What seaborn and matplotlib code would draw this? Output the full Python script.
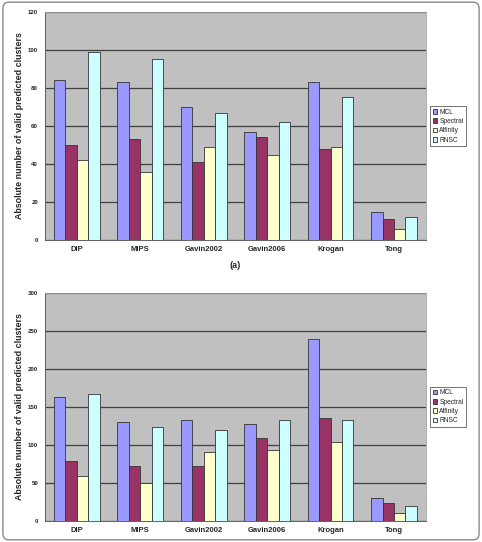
import pandas as pd
import numpy as np
from matplotlib import pyplot as plt
from matplotlib.patches import FancyBboxPatch
import seaborn as sns

datasets = ['DIP', 'MIPS', 'Gavin2002', 'Gavin2006', 'Krogan', 'Tong']
methods = ['MCL', 'Spectral', 'Affinity', 'RNSC']

# panel (a)
mcl_a = [84, 83, 70, 57, 83, 15]
spectral_a = [50, 53, 41, 54, 48, 11]
affinity_a = [42, 36, 49, 45, 49, 6]
rnsc_a = [99, 95, 67, 62, 75, 12]

# panel (b)
mcl_b = [163, 130, 133, 128, 239, 30]
spectral_b = [79, 73, 73, 109, 135, 24]
affinity_b = [59, 50, 91, 94, 104, 11]
rnsc_b = [167, 123, 120, 133, 133, 20]

palette = ['#9999FF', '#993366', '#FFFFCC', '#CCFFFF']
ylabel = 'Absolute number of valid predicted clusters'


def long_frame(series):
    rows = []
    for m, vals in zip(methods, series):
        for d, v in zip(datasets, vals):
            rows.append({'Dataset': d, 'Method': m, 'Value': v})
    return pd.DataFrame(rows)


def draw_panel(ax, df, ymax, step):
    ax.set_facecolor('#C0C0C0')
    sns.barplot(data=df, x='Dataset', y='Value', hue='Method',
                order=datasets, hue_order=methods, palette=palette,
                width=0.72, edgecolor='#333333', linewidth=0.6,
                saturation=1, errorbar=None, ax=ax, zorder=3)
    ax.set_xlim(-0.5, len(datasets) - 0.5)
    ax.set_ylim(0, ymax)
    ax.set_yticks(np.arange(0, ymax + 1, step))
    ax.yaxis.grid(True, color='#404040', linewidth=0.9, zorder=1)
    ax.xaxis.grid(False)
    ax.set_axisbelow(True)
    ax.set_xlabel('')
    ax.set_ylabel(ylabel, fontsize=6.4, fontweight='bold', labelpad=3)
    ax.tick_params(axis='x', which='major', length=0, pad=4,
                   labelsize=5.5)
    for t in ax.get_xticklabels():
        t.set_fontweight('bold')
    ax.set_xticks(np.arange(0.5, len(datasets) - 0.5), minor=True)
    ax.tick_params(axis='x', which='minor', length=3, color='#555555', width=0.6)
    ax.tick_params(axis='y', length=3, color='#555555', width=0.6,
                   labelsize=4.4, pad=2)
    for t in ax.get_yticklabels():
        t.set_fontweight('bold')
    for s in ['top', 'right']:
        ax.spines[s].set_color('#A0A0A0')
        ax.spines[s].set_linewidth(0.6)
    for s in ['left', 'bottom']:
        ax.spines[s].set_color('#606060')
        ax.spines[s].set_linewidth(0.7)
    leg = ax.legend(loc='center left', bbox_to_anchor=(1.012, 0.5),
                    fontsize=4.8, frameon=True, fancybox=False,
                    handlelength=0.7, handleheight=0.7, handletextpad=0.3,
                    borderpad=0.35, labelspacing=0.35, borderaxespad=0)
    leg.get_frame().set_edgecolor('#333333')
    leg.get_frame().set_linewidth(0.6)


sns.set_style('white')
plt.rcParams['font.family'] = ['Liberation Sans', 'DejaVu Sans']

fig = plt.figure(figsize=(4.82, 5.42), dpi=100)
ax1 = fig.add_axes([0.0934, 0.557, 0.790, 0.421])
ax2 = fig.add_axes([0.0934, 0.0387, 0.790, 0.421])

draw_panel(ax1, long_frame([mcl_a, spectral_a, affinity_a, rnsc_a]), 120, 20)
draw_panel(ax2, long_frame([mcl_b, spectral_b, affinity_b, rnsc_b]), 300, 50)

fig.text(0.488, 0.511, '(a)', ha='center', va='center', fontsize=6.5,
         fontweight='bold')

frame = FancyBboxPatch((0.006, 0.004), 0.988, 0.992,
                       boxstyle='round,pad=0,rounding_size=0.012',
                       transform=fig.transFigure, fill=False,
                       edgecolor='#8a8a8a', linewidth=1.0)
fig.patches.append(frame)

fig.savefig('out.png', dpi=100)
